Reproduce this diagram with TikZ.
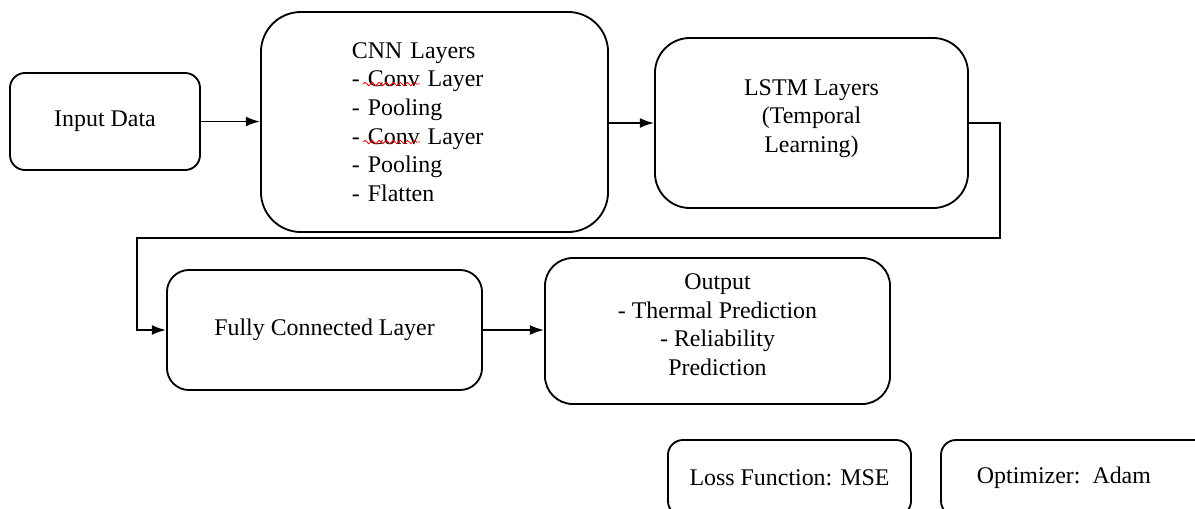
\documentclass[tikz,border=0pt]{standalone}
\usepackage{fontspec}
\setmainfont{Liberation Serif}
\usetikzlibrary{arrows.meta,decorations.pathmorphing}

\tikzset{
  blk/.style={draw, line width=1.3pt, align=center, font=\fontsize{17}{20.3}\selectfont},
  conn/.style={line width=1.3pt, -{Latex[length=10pt,width=7pt]}},
  squig/.style={red, line width=0.6pt, decorate, decoration={snake, amplitude=1.2pt, segment length=5pt}},
}
\newcommand{\lowpad}[1]{\rule[-#1]{0pt}{0pt}}

\begin{document}
\begin{tikzpicture}[x=0.025cm, y=-0.025cm]
  \useasboundingbox (0,0) rectangle (1195,508);
  \clip (0,0) rectangle (1195,508);
  \node[blk, rounded corners=0.375cm, minimum width=4.75cm, minimum height=2.425cm] (input) at (105,121.5) {Input Data};
  \node[blk, rounded corners=1cm, minimum width=8.675cm, minimum height=5.5cm, text width=4.125cm, inner xsep=0pt, align=left] (cnn) at (434.5,122)
    {CNN Layers\\- Conv Layer\\- Pooling\\- Conv Layer\\- Pooling\\- Flatten};
  \node[blk, rounded corners=0.875cm, minimum width=7.825cm, minimum height=4.25cm] (lstm) at (811.5,123)
    {LSTM Layers\\(Temporal\\Learning)\lowpad{0.35cm}};
  \node[blk, rounded corners=0.55cm, minimum width=7.875cm, minimum height=3cm] (fc) at (324.5,330) {Fully Connected Layer};
  \node[blk, rounded corners=0.7cm, minimum width=8.625cm, minimum height=3.65cm] (out) at (717.5,331)
    {Output\\- Thermal Prediction\\- Reliability\\Prediction\lowpad{0.33cm}};
  \node[blk, rounded corners=0.375cm, minimum width=6.075cm, minimum height=1.9cm] (loss) at (789.5,478) {Loss Function: MSE};
  \node[blk, rounded corners=0.375cm, minimum width=6.725cm, minimum height=1.9cm, text width=4.925cm, inner xsep=0.9cm, align=left] (opt) at (1075.5,478) {Optimizer: Adam};
  \draw[squig] (363,84) -- (420,84);
  \draw[squig] (363,142) -- (420,142);
  \draw[conn] (input) -- (cnn.west |- input);
  \draw[conn] (cnn.east |- lstm) -- (lstm);
  \coordinate (r) at (1000,238);
  \coordinate (l) at (137,238);
  \draw[conn] (lstm.east) -- (lstm.east -| r) -- (r) -- (l) -- (l |- fc) -- (fc);
  \draw[conn] (fc) -- (out.west |- fc);
\end{tikzpicture}
\end{document}
